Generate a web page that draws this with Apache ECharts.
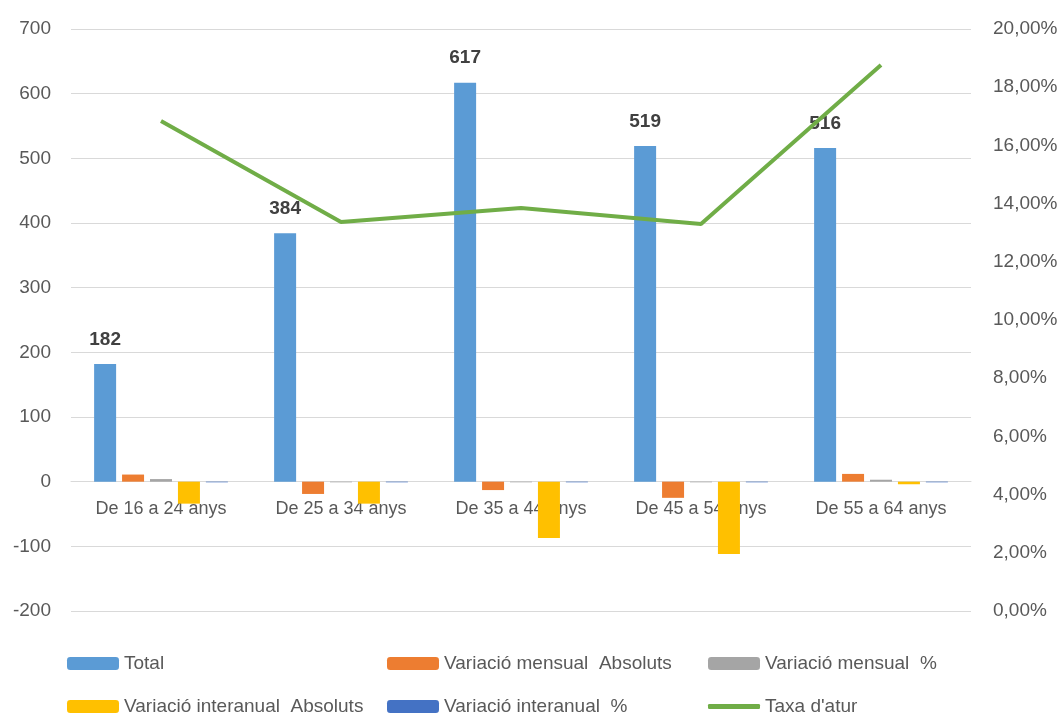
<!DOCTYPE html>
<html><head><meta charset="utf-8">
<script src="https://cdn.jsdelivr.net/npm/echarts@6/dist/echarts.min.js"></script>
<style>html,body{margin:0;padding:0;background:#fff}#c{width:1061px;height:715px}</style>
</head><body><div id="c"></div>
<script>
const categories = ['De 16 a 24 anys','De 25 a 34 anys','De 35 a 44 anys','De 45 a 54 anys','De 55 a 64 anys'];
const total = [182, 384, 617, 519, 516];
const varMensAbs = [11, -19, -13, -25, 12];
const varMensPct = [4, -1, -1, -1, 3];
const varInterAbs = [-34, -34, -87, -112, -4];
const varInterPct = [-1, -1, -1, -1, -1];
const taxaAtur = [16.84, 13.37, 13.85, 13.30, 18.76];
const leftTicks = {min: -200, max: 700, interval: 100};
const rightTicks = {min: 0, max: 20, interval: 2};

const FONT = "'Liberation Sans','Arial',sans-serif";
const TXT = '#595959';
const chart = echarts.init(document.getElementById('c'));
function lg(name, left, top, extra) {
  return Object.assign({
    data: [name], left: left, top: top, itemWidth: 52, itemHeight: 13, itemGap: 6,
    textStyle: {fontFamily: FONT, fontSize: 19, color: TXT}, padding: 0
  }, extra || {});
}
chart.setOption({
  animation: false,
  color: ['#5b9bd5','#ed7d31','#a5a5a5','#ffc000','#4472c4','#70ad47'],
  grid: {left: 71, right: 90, top: 29, bottom: 104},
  legend: [
    lg('Total', 67, 654),
    lg('Variació mensual  Absoluts', 387, 654),
    lg('Variació mensual  %', 708, 654),
    lg('Variació interanual  Absoluts', 67, 697),
    lg('Variació interanual  %', 387, 697),
    lg("Taxa d'atur", 708, 697, {itemHeight: 5, icon: 'roundRect'})
  ],
  xAxis: {
    type: 'category', data: categories,
    axisLine: {onZero: true, lineStyle: {color: '#d9d9d9', width: 1}},
    axisTick: {show: false},
    axisLabel: {fontFamily: FONT, fontSize: 18, color: TXT, margin: -111, interval: 0}
  },
  yAxis: [
    {type: 'value', min: leftTicks.min, max: leftTicks.max, interval: leftTicks.interval,
     axisLine: {show: false}, axisTick: {show: false},
     splitLine: {lineStyle: {color: '#d9d9d9', width: 1}},
     axisLabel: {fontFamily: FONT, fontSize: 19, color: TXT, margin: 20}},
    {type: 'value', min: rightTicks.min, max: rightTicks.max, interval: rightTicks.interval,
     axisLine: {show: false}, axisTick: {show: false}, splitLine: {show: false},
     axisLabel: {fontFamily: FONT, fontSize: 19, color: TXT, margin: 22,
       formatter: v => v.toFixed(2).replace('.', ',') + '%'}}
  ],
  series: [
    {name: 'Total', type: 'bar', data: total, barWidth: 22, barGap: '27%',
     label: {show: true, position: 'top', distance: 15, fontFamily: FONT, fontSize: 19, fontWeight: 'bold', color: '#404040'}},
    {name: 'Variació mensual  Absoluts', type: 'bar', data: varMensAbs, barWidth: 22, barGap: '27%'},
    {name: 'Variació mensual  %', type: 'bar', data: varMensPct, barWidth: 22, barGap: '27%'},
    {name: 'Variació interanual  Absoluts', type: 'bar', data: varInterAbs, barWidth: 22, barGap: '27%'},
    {name: 'Variació interanual  %', type: 'bar', data: varInterPct, barWidth: 22, barGap: '27%'},
    {name: "Taxa d'atur", type: 'line', yAxisIndex: 1, data: taxaAtur, showSymbol: false, symbol: 'none',
     lineStyle: {width: 4, color: '#70ad47'}, z: 5}
  ]
});
</script></body></html>
